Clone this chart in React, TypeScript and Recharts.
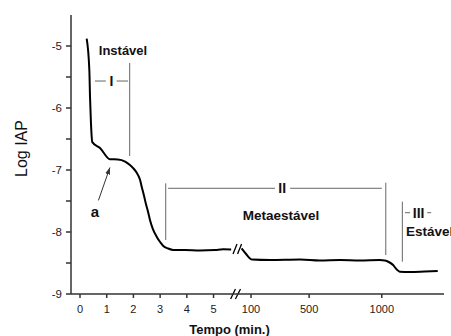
import { LineChart, Line, XAxis, YAxis, ReferenceLine, ReferenceDot } from 'recharts'

// first minutes (left of the axis break)
const earlyTime = [0.25, 0.35, 0.375, 0.41, 0.46, 0.75, 1.12, 1.42, 1.69, 1.87, 2.02, 2.13, 2.25, 2.31, 2.39, 2.46, 2.55, 2.62, 2.73, 2.87, 3.0, 3.12, 3.3, 3.49, 3.93, 4.49, 5.06, 5.36, 5.66]
const earlyLogIap = [-4.88, -5.39, -5.82, -6.24, -6.55, -6.645, -6.827, -6.83, -6.863, -6.919, -6.984, -7.048, -7.161, -7.27, -7.403, -7.532, -7.677, -7.806, -7.952, -8.076, -8.161, -8.226, -8.266, -8.29, -8.29, -8.298, -8.29, -8.28, -8.282]

// after the break (minutes)
const lateTime = [35, 66, 107, 231, 437, 574, 712, 849, 987, 1021, 1048, 1078, 1103, 1124, 1193, 1296, 1385]
const lateLogIap = [-8.265, -8.355, -8.444, -8.452, -8.444, -8.46, -8.452, -8.46, -8.452, -8.46, -8.484, -8.532, -8.605, -8.64, -8.645, -8.637, -8.629]

const xTickTimes = [0, 1, 2, 3, 4, 5, 100, 500, 1000]
const yTicks = [-9, -8.5, -8, -7.5, -7, -6.5, -6, -5.5, -5]

// broken time axis: minutes 0-6 keep their spacing, after the break it is compressed
const toAxis = (t: number) => (t <= 6 ? t : 6.404 + (t - 100) * 0.00544)

const earlyData = earlyTime.map((t, i) => ({ pos: toAxis(t), v: earlyLogIap[i] }))
const lateData = lateTime.map((t, i) => ({ pos: toAxis(t), v: lateLogIap[i] }))
const tickLabel = new Map(xTickTimes.map(t => [toAxis(t), String(t)]))

const ink = '#111'
const grey = '#666'

function note(text: string, size: number, anchor: 'start' | 'middle' = 'middle', weight = 'bold') {
  return (p: any) => (
    <text x={p.cx} y={p.cy} textAnchor={anchor} dominantBaseline="central" fontSize={size} fontWeight={weight} fill={ink} fontFamily="'Liberation Sans', Arial, sans-serif">
      {text}
    </text>
  )
}

export default function App() {
  return (
    <div style={{ position: 'absolute', left: 0, top: 0, background: '#fff' }}>
      <LineChart width={451} height={336} margin={{ top: 15, right: 7, bottom: 0, left: 0 }}>
        <defs>
          <marker id="arrowHead" viewBox="0 0 10 10" refX="10" refY="5" markerWidth="7" markerHeight="7" orient="auto">
            <path d="M0,1.5 L10,5 L0,8.5 z" fill="#333" />
          </marker>
        </defs>
        <XAxis
          type="number"
          dataKey="pos"
          domain={[-0.337, 13.63]}
          ticks={xTickTimes.map(toAxis)}
          tickFormatter={v => tickLabel.get(v) ?? ''}
          allowDataOverflow
          height={42}
          tickSize={4}
          tickMargin={7}
          stroke="#333"
          strokeWidth={1.5}
          tick={{ fill: '#222', fontSize: 11, fontFamily: "'Liberation Sans', Arial, sans-serif" }}
          label={{ value: 'Tempo (min.)', position: 'insideBottom', offset: 2, dx: -28, fill: ink, fontSize: 13, fontWeight: 'bold', fontFamily: "'Liberation Sans', Arial, sans-serif" }}
        />
        <YAxis
          type="number"
          domain={[-9, -4.5]}
          ticks={yTicks}
          tickFormatter={v => (Number.isInteger(v) ? String(v) : '')}
          width={71}
          tickSize={5}
          tickMargin={4}
          stroke="#333"
          strokeWidth={1.5}
          tick={{ fill: '#222', fontSize: 11.5, fontFamily: "'Liberation Sans', Arial, sans-serif" }}
          label={{ value: 'Log IAP', angle: -90, position: 'center', dx: -14.5, dy: -6, fill: ink, fontSize: 16, fontFamily: "'Liberation Sans', Arial, sans-serif" }}
        />

        <Line data={earlyData} dataKey="v" stroke="#000" strokeWidth={2} dot={false} type="monotone" isAnimationActive={false} />
        <Line data={lateData} dataKey="v" stroke="#000" strokeWidth={2} dot={false} type="monotone" isAnimationActive={false} />

        {/* break marks on the curve and on the time axis */}
        <ReferenceLine segment={[{ x: 5.73, y: -8.355 }, { x: 5.88, y: -8.194 }]} stroke="#000" strokeWidth={1.3} ifOverflow="visible" />
        <ReferenceLine segment={[{ x: 5.9, y: -8.355 }, { x: 6.05, y: -8.194 }]} stroke="#000" strokeWidth={1.3} ifOverflow="visible" />
        <ReferenceLine segment={[{ x: 5.64, y: -9.081 }, { x: 5.82, y: -8.919 }]} stroke="#000" strokeWidth={1.3} ifOverflow="visible" />
        <ReferenceLine segment={[{ x: 5.82, y: -9.081 }, { x: 6.01, y: -8.919 }]} stroke="#000" strokeWidth={1.3} ifOverflow="visible" />

        {/* stage I */}
        <ReferenceDot x={1.61} y={-5.065} r={0} shape={note('Instável', 13)} />
        <ReferenceLine segment={[{ x: 0.56, y: -5.565 }, { x: 0.97, y: -5.565 }]} stroke={grey} />
        <ReferenceDot x={1.18} y={-5.565} r={0} shape={note('I', 14)} />
        <ReferenceLine segment={[{ x: 1.37, y: -5.565 }, { x: 1.8, y: -5.565 }]} stroke={grey} />
        <ReferenceLine segment={[{ x: 1.86, y: -5.274 }, { x: 1.86, y: -6.774 }]} stroke={grey} />

        {/* point a */}
        <ReferenceLine segment={[{ x: 0.69, y: -7.49 }, { x: 1.12, y: -6.96 }]} stroke="#333" markerEnd="url(#arrowHead)" />
        <ReferenceDot x={0.56} y={-7.67} r={0} shape={note('a', 15)} />

        {/* stage II */}
        <ReferenceLine segment={[{ x: 3.21, y: -7.215 }, { x: 3.21, y: -8.129 }]} stroke={grey} />
        <ReferenceLine segment={[{ x: 3.3, y: -7.295 }, { x: 7.3, y: -7.295 }]} stroke={grey} />
        <ReferenceDot x={7.57} y={-7.295} r={0} shape={note('II', 14)} />
        <ReferenceLine segment={[{ x: 7.87, y: -7.295 }, { x: 11.3, y: -7.295 }]} stroke={grey} />
        <ReferenceLine segment={[{ x: 11.45, y: -7.205 }, { x: 11.45, y: -8.371 }]} stroke={grey} />
        <ReferenceDot x={7.53} y={-7.726} r={0} shape={note('Metaestável', 13.5)} />

        {/* stage III */}
        <ReferenceLine segment={[{ x: 12.07, y: -7.511 }, { x: 12.07, y: -8.479 }]} stroke={grey} />
        <ReferenceLine segment={[{ x: 12.17, y: -7.689 }, { x: 12.36, y: -7.689 }]} stroke={grey} />
        <ReferenceDot x={12.68} y={-7.689} r={0} shape={note('III', 14)} />
        <ReferenceLine segment={[{ x: 13.0, y: -7.689 }, { x: 13.15, y: -7.689 }]} stroke={grey} />
        <ReferenceDot x={12.21} y={-7.995} r={0} shape={note('Estável', 13.5, 'start')} />
      </LineChart>
    </div>
  )
}
